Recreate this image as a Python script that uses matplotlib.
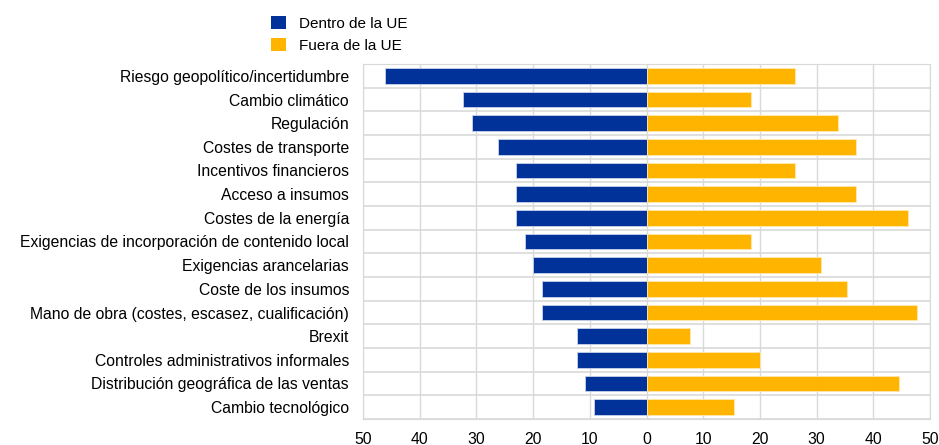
import matplotlib
matplotlib.use("Agg")
import matplotlib.pyplot as plt
from matplotlib.patches import Patch
import numpy as np

plt.rcParams["font.family"] = ["Liberation Sans", "DejaVu Sans"]

BLUE, YELLOW, GRID = "#003299", "#FFB400", "#d9d9d9"

categories = [
    "Riesgo geopolítico/incertidumbre",
    "Cambio climático",
    "Regulación",
    "Costes de transporte",
    "Incentivos financieros",
    "Acceso a insumos",
    "Costes de la energía",
    "Exigencias de incorporación de contenido local",
    "Exigencias arancelarias",
    "Coste de los insumos",
    "Mano de obra (costes, escasez, cualificación)",
    "Brexit",
    "Controles administrativos informales",
    "Distribución geográfica de las ventas",
    "Cambio tecnológico",
]
dentro = [46.2, 32.3, 30.8, 26.2, 23.1, 23.1, 23.1, 21.5, 20.0, 18.5, 18.5, 12.3, 12.3, 10.8, 9.2]
fuera = [26.2, 18.5, 33.8, 36.9, 26.2, 36.9, 46.2, 18.5, 30.8, 35.4, 47.7, 7.7, 20.0, 44.6, 15.4]
ticks = [-50, -40, -30, -20, -10, 0, 10, 20, 30, 40, 50]

fig = plt.figure(figsize=(9.39, 4.45), dpi=100)
ax = fig.add_axes([363 / 939, 1 - 419 / 445, 567 / 939, 355 / 445])

y = np.arange(len(categories))
h = 0.66
ax.barh(y, [-v for v in dentro], height=h, color=BLUE, edgecolor="#c9d3ea",
        linewidth=0.6, zorder=3)
ax.barh(y, fuera, height=h, color=YELLOW, edgecolor="#ffe9b0",
        linewidth=0.6, zorder=3)

ax.set_xlim(-50, 50)
ax.set_ylim(len(categories) - 0.5, -0.5)
ax.set_xticks(ticks)
ax.set_xticklabels([str(abs(t)) for t in ticks], fontsize=11.3)
ax.set_yticks(y)
ax.set_yticklabels(categories, fontsize=11.3)
ax.tick_params(length=0)
ax.tick_params(axis="y", pad=10)
ax.tick_params(axis="x", pad=9)

# grid: verticals at ticks, horizontals between categories
for t in ticks:
    ax.axvline(t, color=GRID, lw=1, zorder=1)
for b in np.arange(-0.5, len(categories), 1):
    ax.axhline(b, color=GRID, lw=1.2, zorder=1)
for s in ax.spines.values():
    s.set_color(GRID)

handles = [Patch(facecolor=BLUE, label="Dentro de la UE"),
           Patch(facecolor=YELLOW, label="Fuera de la UE")]
fig.legend(handles=handles, loc="upper left", bbox_to_anchor=(265 / 939, 1 - 10 / 445),
           frameon=False, fontsize=11, handlelength=0.95, handleheight=0.95,
           handletextpad=0.9, labelspacing=0.45, borderaxespad=0)

fig.savefig("out.png", dpi=100)
